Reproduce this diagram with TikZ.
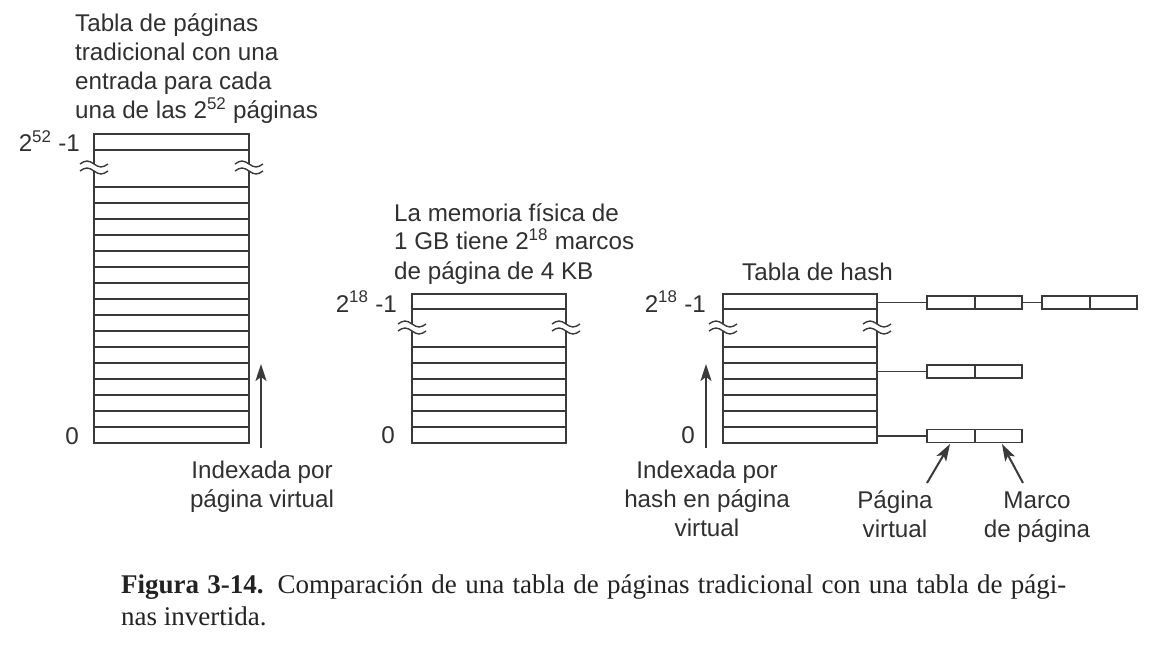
\documentclass[tikz,border=0pt]{standalone}
\usepackage{fontspec}
\setmainfont{Liberation Sans}
\newfontfamily\capfont{Liberation Serif}
\usetikzlibrary{arrows.meta}
\definecolor{ink}{HTML}{3A3A3A}
\definecolor{txt}{HTML}{303030}
\definecolor{captxt}{HTML}{222222}
\newcommand\brk[2]{%
  \draw[tbl, line width=1.4pt] (#1-14,#2) sin (#1-7,#2-3) cos (#1,#2) sin (#1+7,#2+3) cos (#1+14,#2);}
\begin{document}
\begin{tikzpicture}[x=1pt,y=-1pt,
  tbl/.style={draw=ink, line width=1.8pt},
  conn/.style={draw=ink, line width=1.8pt},
  arr/.style={draw=ink, line width=2pt, -{Stealth[length=17pt,width=11pt,inset=4pt]}},
  lbl/.style={font=\fontsize{24.2}{29}\selectfont, text=txt, inner sep=0pt},
  cell/.style={draw=ink, line width=1.8pt, minimum width=47.5pt, minimum height=13pt, inner sep=0pt}]
\useasboundingbox (0,0) rectangle (1162,647);

% ---------- left table ----------
\draw[tbl] (94,164) -- (94,134) -- (249,134) -- (249,164);
\draw[tbl] (94,150) -- (249,150);
\draw[tbl] (94,171) -- (94,443) -- (249,443) -- (249,171);
\foreach \y in {187,203,...,427} \draw[tbl] (94,\y) -- (249,\y);
\brk{94}{164}\brk{94}{171}\brk{249}{164}\brk{249}{171}

\node[lbl, align=left, anchor=base west] (t1) at (75,119)
  {Tabla de páginas\\tradicional con una\\entrada para cada\\una de las 2\textsuperscript{52} páginas};
\node[lbl, anchor=base east] (l1top) at (80,152) {2\textsuperscript{52} -1};
\node[lbl, anchor=base east] (l1zero) at (79,444) {0};
\node[lbl, align=center, anchor=base] (ix1) at (262,507) {Indexada por\\página virtual};
\coordinate (a1s) at (261,448);
\coordinate (a1e) at (261,364);
\draw[arr] (a1s) -- (a1e);

% ---------- middle table ----------
\draw[tbl] (412,324) -- (412,294) -- (566,294) -- (566,324);
\draw[tbl] (412,309) -- (566,309);
\draw[tbl] (412,331) -- (412,443) -- (566,443) -- (566,331);
\foreach \y in {347,363,...,427} \draw[tbl] (412,\y) -- (566,\y);
\brk{412}{324}\brk{412}{331}\brk{566}{324}\brk{566}{331}

\node[lbl, align=left, anchor=base west] (t2) at (394,279)
  {La memoria física de\\1 GB tiene 2\textsuperscript{18} marcos\\de página de 4 KB};
\node[lbl, anchor=base east] (l2top) at (397,312) {2\textsuperscript{18} -1};
\node[lbl, anchor=base east] (l2zero) at (395,443) {0};

% ---------- right (hash) table ----------
\draw[tbl] (723,324) -- (723,294) -- (877,294) -- (877,324);
\draw[tbl] (723,309) -- (877,309);
\draw[tbl] (723,331) -- (723,443) -- (877,443) -- (877,331);
\foreach \y in {347,363,...,427} \draw[tbl] (723,\y) -- (877,\y);
\brk{723}{324}\brk{723}{331}\brk{877}{324}\brk{877}{331}

\node[lbl, anchor=base west] (t3) at (742,280) {Tabla de hash};
\node[lbl, anchor=base east] (l3top) at (706,312) {2\textsuperscript{18} -1};
\node[lbl, anchor=base east] (l3zero) at (695,443) {0};
\node[lbl, align=center, anchor=base] (ix2) at (707,536) {Indexada por\\hash en página\\virtual};
\coordinate (a2s) at (706,448);
\coordinate (a2e) at (706,364);
\draw[arr] (a2s) -- (a2e);

% chains
\node[cell] (a1) at (951,302.5) {};
\node[cell] (a2) at (998.5,302.5) {};
\node[cell] (a3) at (1066,302.5) {};
\node[cell] (a4) at (1113.5,302.5) {};
\node[cell] (b1) at (951,371.5) {};
\node[cell] (b2) at (998.5,371.5) {};
\node[cell] (c1) at (951,436) {};
\node[cell] (c2) at (998.5,436) {};
\coordinate (h1) at (877,302.5);
\coordinate (h2) at (877,371.5);
\coordinate (h3) at (877,436);
\draw[conn] (h1) -- (a1.west);
\draw[conn] (a2.east) -- (a3.west);
\draw[conn] (h2) -- (b1.west);
\draw[conn] (h3) -- (c1.west);

\node[lbl, align=center, anchor=base] (pv) at (895,537) {Página\\virtual};
\node[lbl, align=center, anchor=base] (mp) at (1037,537) {Marco\\de página};
\coordinate (pvs) at (927,483);
\coordinate (pve) at (950,444);
\coordinate (mps) at (1023,483);
\coordinate (mpe) at (1002,444);
\draw[arr] (pvs) -- (pve);
\draw[arr] (mps) -- (mpe);

% caption
\node[font=\capfont\fontsize{27}{32}\selectfont, text=captxt, align=left, anchor=base west, inner sep=0pt] (cap) at (121,625)
  {\makebox[945pt][s]{\textbf{Figura 3-14.}\hspace{14pt}Comparación de una tabla de páginas tradicional con una tabla de pági-}\\nas invertida.};
\end{tikzpicture}
\end{document}
